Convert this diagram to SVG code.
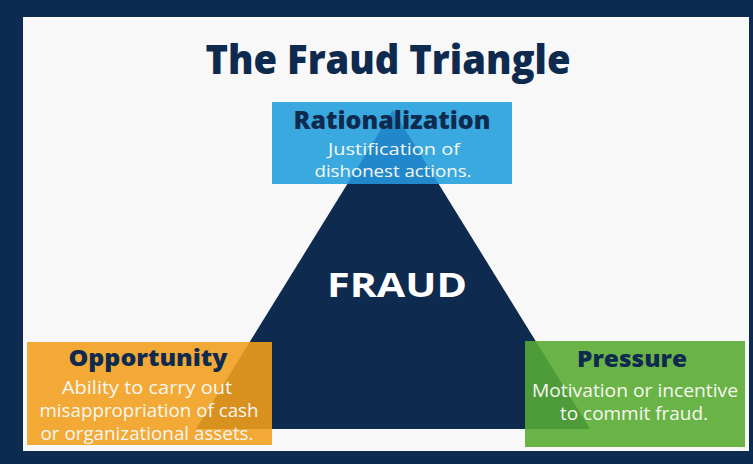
<svg xmlns="http://www.w3.org/2000/svg" width="753" height="464" viewBox="0 0 753 464">
  <style>
    .head { font-family: "Open Sans", "Liberation Sans", sans-serif; font-weight: 800; fill: #0f2a4f; text-anchor: middle; }
    .body { font-family: "Open Sans", "Liberation Sans", sans-serif; font-weight: 400; fill: #f7f7f2; text-anchor: middle; font-size: 18.5px; }
    .big { font-family: "Open Sans", "Liberation Sans", sans-serif; font-weight: 700; fill: #ffffff; text-anchor: middle; }
  </style>
  <rect x="0" y="0" width="753" height="464" fill="#0d2a50"/>
  <rect id="panel" x="23" y="17" width="726" height="434" fill="#f8f8f8"/>
  <g id="title">
    <text class="head" x="388" y="74" font-size="41" textLength="365" lengthAdjust="spacingAndGlyphs">The Fraud Triangle</text>
  </g>
  <g id="fraud">
    <polygon points="393,110 196,429 590,429" fill="#0f2a4f"/>
    <text class="big" x="397" y="297" font-size="34" textLength="140" lengthAdjust="spacingAndGlyphs">FRAUD</text>
  </g>
  <g id="rationalization">
    <rect x="272" y="102" width="240" height="82" fill="#3aa9e0"/>
    <polygon points="393,110 347.3,184 438.7,184" fill="#2189cb"/>
    <text class="head" x="392" y="129" font-size="24" textLength="197" lengthAdjust="spacingAndGlyphs">Rationalization</text>
    <text class="body" x="394" y="155" font-size="17" style="font-size:17px" textLength="132" lengthAdjust="spacingAndGlyphs">Justification of</text>
    <text class="body" x="393" y="177" style="font-size:17px" textLength="157" lengthAdjust="spacingAndGlyphs">dishonest actions.</text>
  </g>
  <g id="opportunity">
    <rect x="27" y="342" width="245" height="103" fill="#f2a935"/>
    <polygon points="249.7,342 272,342 272,429 196,429" fill="#d8911f"/>
    <text class="head" x="148" y="366" font-size="23" textLength="159" lengthAdjust="spacingAndGlyphs">Opportunity</text>
    <text class="body" x="147" y="394" textLength="170" lengthAdjust="spacingAndGlyphs">Ability to carry out</text>
    <text class="body" x="149" y="417" textLength="219" lengthAdjust="spacingAndGlyphs">misappropriation of cash</text>
    <text class="body" x="147" y="440" textLength="213" lengthAdjust="spacingAndGlyphs">or organizational assets.</text>
  </g>
  <g id="pressure">
    <rect x="525" y="341" width="220" height="106" fill="#6ab447"/>
    <polygon points="525,341 535.7,341 590,429 525,429" fill="#4e9b39"/>
    <text class="head" x="632" y="367" font-size="23" textLength="110" lengthAdjust="spacingAndGlyphs">Pressure</text>
    <text class="body" x="635" y="397" textLength="206" lengthAdjust="spacingAndGlyphs">Motivation or incentive</text>
    <text class="body" x="634" y="420" textLength="148" lengthAdjust="spacingAndGlyphs">to commit fraud.</text>
  </g>
  <g id="connectors"/>
</svg>
